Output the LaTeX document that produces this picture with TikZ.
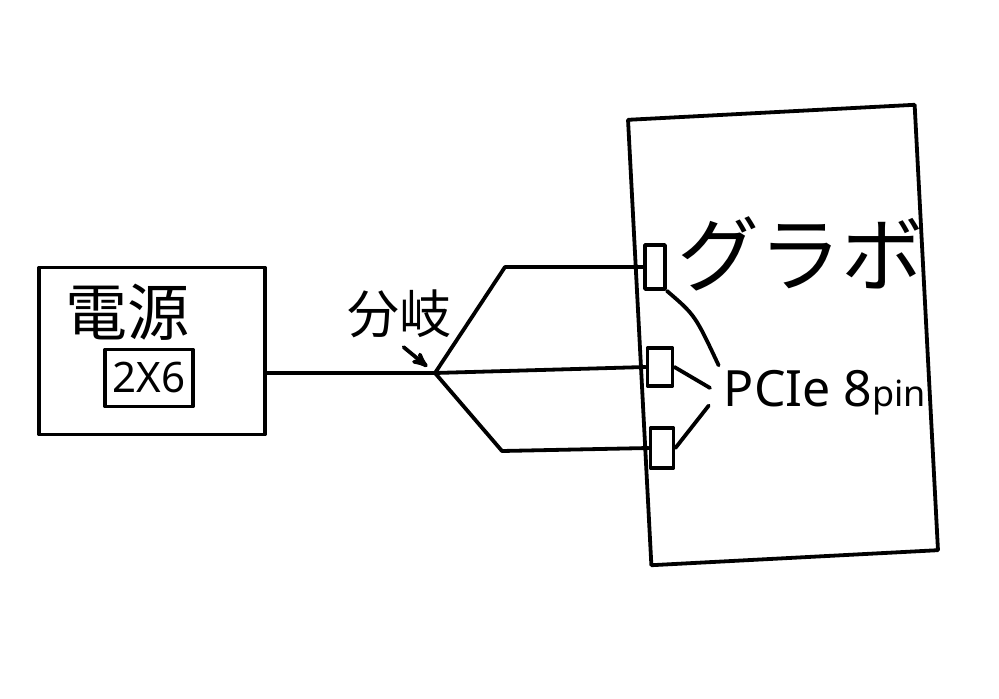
\documentclass[tikz,border=0pt]{standalone}
\usepackage{fontspec}
\setmainfont{Noto Sans}
\newfontfamily\jp{Noto Sans CJK JP}
\usetikzlibrary{arrows}

\begin{document}
\begin{tikzpicture}[x=1pt,y=-1pt,>=stealth',line width=3.8pt,line cap=round,line join=round,
                    box/.style={draw,rectangle,inner sep=0pt},
                    pin/.style={draw,rectangle,inner sep=0pt}]
                        \useasboundingbox (0,0) rectangle (999,699);
                        \node[box, minimum width=226pt, minimum height=167pt]            (psu)    at (152,351) {};
                        \node[font=\jp\fontsize{62}{62}\selectfont]                      (psulbl) at (127,312) {電源};
                        \node[box, minimum width=88pt, minimum height=57pt,
                              font=\fontsize{42}{42}\selectfont]                         (plug)   at (149,378) {2X6};
                        \coordinate                                                      (split)  at (435,373);
                        \coordinate                                                      (bendA)  at (505,267);
                        \coordinate                                                      (bendC)  at (502,451);
                        \node[box, rotate=3, minimum width=287pt, minimum height=446pt]  (gpu)    at (783,335) {};
                        \node[pin, minimum width=20pt, minimum height=44pt]              (pinA)   at (655,267) {};
                        \node[pin, minimum width=25pt, minimum height=38pt]              (pinB)   at (660,367) {};
                        \node[pin, minimum width=23pt, minimum height=40pt]              (pinC)   at (662,448) {};
                        \node[font=\jp\fontsize{82}{82}\selectfont]                      (gpulbl) at (800,254) {グラボ};
                        \node[font=\fontsize{50}{50}\selectfont]                         (pcie)   at (825,393) {PCIe 8{\fontsize{36}{36}\selectfont pin}};
                        \node[font=\jp\fontsize{52}{52}\selectfont]                      (bunki)  at (399,314) {分岐};
                        \draw (psu.east |- split) -- (split);
                        \draw (split) -- (bendA) -- (pinA.west);
                        \draw (split) -- (pinB.west);
                        \draw (split) -- (bendC) -- (pinC.west);
                        \path[->] (bunki.south) edge [shorten <=6pt, shorten >=10pt] (split);
                        \draw (pinA.south east) .. controls (695,315) .. (pcie.north west);
                        \draw[shorten >=10pt] (pinB.east) -- (pcie.west);
                        \draw[shorten >=16pt] (pinC.east) -- (pcie.west);
                    \end{tikzpicture}
\end{document}
